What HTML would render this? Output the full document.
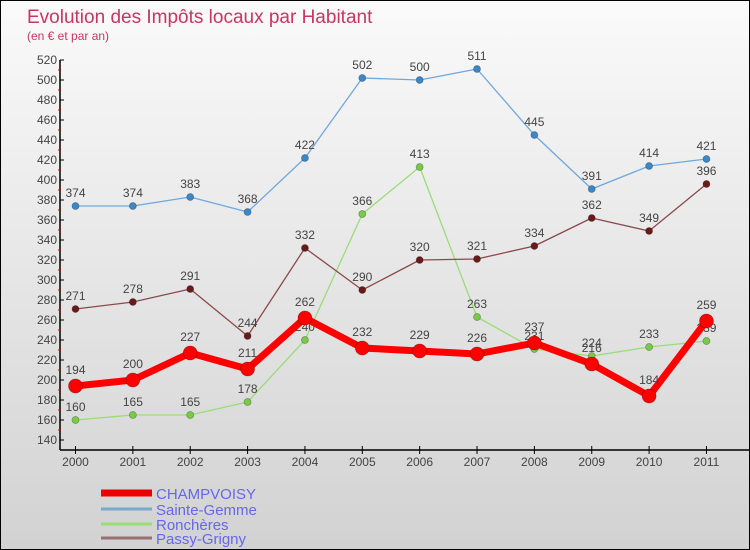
<!DOCTYPE html>
<html><head><meta charset="utf-8"><style>
body{margin:0}
#c{width:748px;height:548px;border:1px solid #000;background:linear-gradient(#fafafa,#d2d2d2);position:relative;font-family:"Liberation Sans",sans-serif}
</style></head><body>
<div id="c">
<svg id="s" width="748" height="548" style="position:absolute;left:0;top:0" font-family="Liberation Sans, sans-serif">
<text x="26" y="22" font-size="19" fill="#c8365f">Evolution des Impôts locaux par Habitant</text>
<text x="26" y="39" font-size="12" fill="#c8365f">(en € et par an)</text>
<g id="axes"></g><g id="series"></g><g id="legend"></g>
</svg></div>
<script>
const years=[2000,2001,2002,2003,2004,2005,2006,2007,2008,2009,2010,2011];
const yTicks=[140,160,180,200,220,240,260,280,300,320,340,360,380,400,420,440,460,480,500,520];
const champvoisy=[194,200,227,211,262,232,229,226,237,216,184,259];
const sainteGemme=[374,374,383,368,422,502,500,511,445,391,414,421];
const roncheres=[160,165,165,178,240,366,413,263,231,224,233,239];
const passyGrigny=[271,278,291,244,332,290,320,321,334,362,349,396];
const NS='http://www.w3.org/2000/svg';
function X(i){return 74.5+i*57.36;}
function Y(v){return 439-(v-140)*1.0;}
function el(t,a,p){const e=document.createElementNS(NS,t);for(const k in a)e.setAttribute(k,a[k]);p.appendChild(e);return e;}
const ax=document.getElementById('axes');
let a=el('line',{x1:59,y1:Y(520),x2:59,y2:Y(140)+10,stroke:'#000','stroke-width':1.5},ax);

a=el('line',{x1:59,y1:449,x2:748,y2:449,stroke:'#000','stroke-width':1.5},ax);

yTicks.forEach((v,i)=>{el('line',{x1:59,y1:Y(v),x2:63,y2:Y(v),stroke:'#000'},ax);
 if(i<yTicks.length-1)el('line',{x1:57,y1:Y(v+10),x2:60,y2:Y(v+10),stroke:'#e00'},ax);
 const t=el('text',{x:56,y:Y(v)+4,'text-anchor':'end','font-size':12,fill:'#444'},ax);t.textContent=v;
 });
years.forEach((y,i)=>{el('line',{x1:X(i),y1:445,x2:X(i),y2:453,stroke:'#000'},ax);
 const t=el('text',{x:X(i),y:465,'text-anchor':'middle','font-size':12,fill:'#444'},ax);t.textContent=y;
 });
const sg=document.getElementById('series');
function draw(name,vals,color,w,r,dot,labelDy){
 const g=el('g',{},sg);
 const p=el('polyline',{points:vals.map((v,i)=>X(i)+','+Y(v)).join(' '),fill:'none',stroke:color,'stroke-width':w,'stroke-linejoin':'round'},g);
 
 vals.forEach((v,i)=>{const c=el('circle',{cx:X(i),cy:Y(v),r:r,fill:dot,stroke:'rgba(0,0,0,0.3)','stroke-width':0.8},g);
  
  const t=el('text',{x:X(i),y:Y(v)-labelDy,'text-anchor':'middle','font-size':12,fill:'#444'},g);t.textContent=v;
  });
}
draw('sainte-gemme',sainteGemme,'#6fa8dc',1.3,3.5,'#3b87c7',9);
draw('roncheres',roncheres,'#99dd77',1.3,3.5,'#77cc44',9);
draw('passy-grigny',passyGrigny,'#8b4a4a',1.3,3.5,'#6b1a1a',9);
draw('champvoisy',champvoisy,'#ff0000',7,7,'#ff0000',12);
const lg=document.getElementById('legend');
[['CHAMPVOISY','#ee0000',7,492],['Sainte-Gemme','#7aa8cc',3,508],['Ronchères','#99dd77',3,523],['Passy-Grigny','#997070',3,537]].forEach(d=>{
 const g=el('g',{},lg);
 el('line',{x1:100,y1:d[3],x2:151,y2:d[3],stroke:d[1],'stroke-width':d[2]},g);
 const t=el('text',{x:155,y:d[3]+6,'font-size':15,fill:'#6666ee'},g);t.textContent=d[0];});
</script></body></html>
